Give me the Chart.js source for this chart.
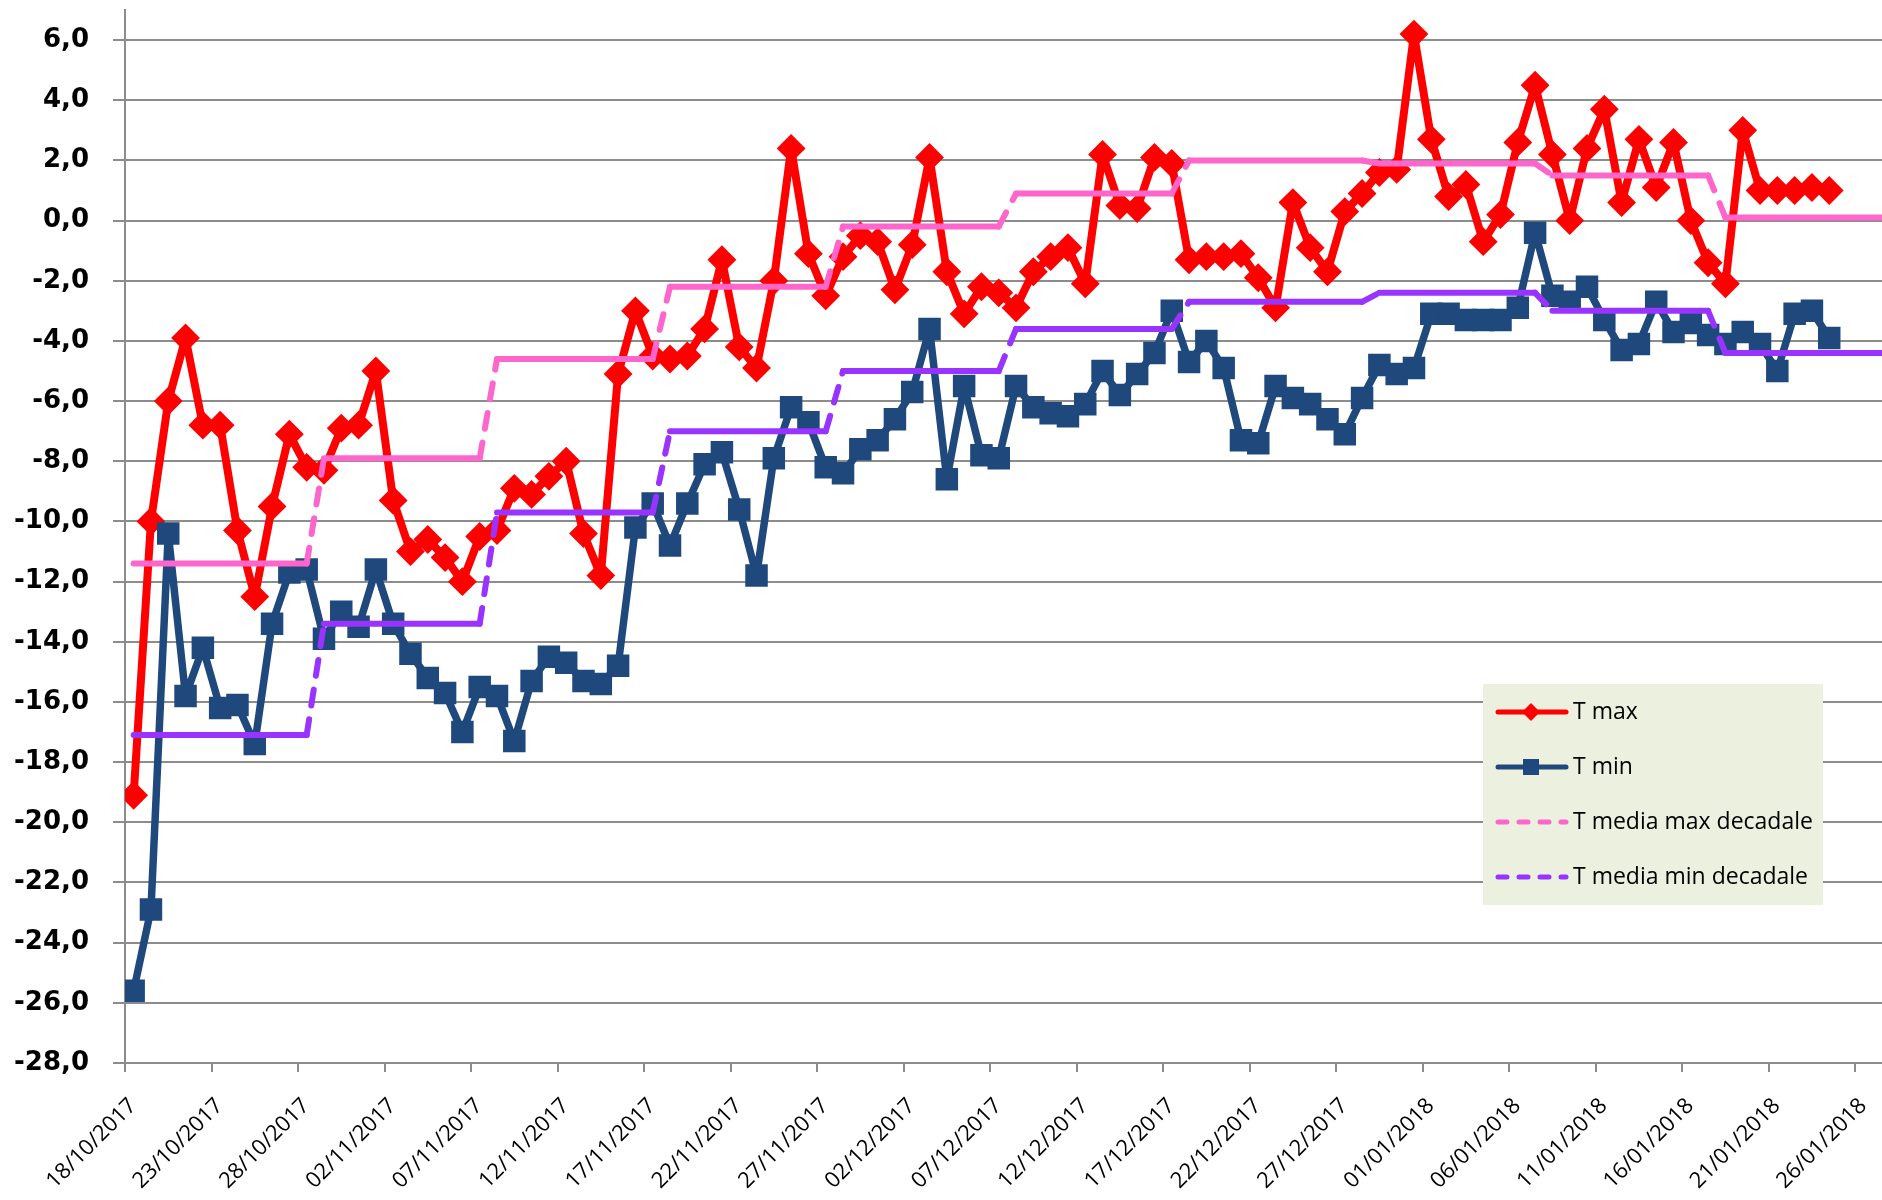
<!DOCTYPE html>
<html>
<head>
<meta charset="utf-8">
<title>Temperature</title>
<script src="https://cdn.jsdelivr.net/npm/chart.js@4.4.1/dist/chart.umd.min.js"></script>
<style>
    html, body { margin: 0; padding: 0; background: #ffffff; }
    #wrap { width: 1882px; height: 1200px; }
</style>
</head>
<body>
<div id="wrap"><canvas id="lineChart1" width="1882" height="1200"></canvas></div>
<script>
// etichette asse x (una ogni 5 giorni, a partire dal 18/10/2017)
var tickLabels = [
    "18/10/2017", "23/10/2017", "28/10/2017", "02/11/2017", "07/11/2017",
    "12/11/2017", "17/11/2017", "22/11/2017", "27/11/2017", "02/12/2017",
    "07/12/2017", "12/12/2017", "17/12/2017", "22/12/2017", "27/12/2017",
    "01/01/2018", "06/01/2018", "11/01/2018", "16/01/2018", "21/01/2018",
    "26/01/2018"
];
var yTicks = [-28, -26, -24, -22, -20, -18, -16, -14, -12, -10, -8, -6, -4, -2, 0, 2, 4, 6];

// valori giornalieri dal 18/10/2017 al 24/01/2018
var tMax = [
    -19.1, -10.0, -6.0, -3.9, -6.8, -6.8, -10.3, -12.5, -9.5, -7.1,
    -8.2, -8.3, -6.9, -6.8, -5.0, -9.3, -11.0, -10.6, -11.2, -12.0,
    -10.5, -10.3, -8.9, -9.1, -8.5, -8.0, -10.4, -11.8, -5.1, -3.0,
    -4.5, -4.6, -4.5, -3.6, -1.3, -4.2, -4.9, -2.0, 2.4, -1.1,
    -2.5, -1.2, -0.5, -0.7, -2.3, -0.8, 2.1, -1.7, -3.1, -2.2,
    -2.4, -2.9, -1.7, -1.2, -0.9, -2.1, 2.2, 0.5, 0.4, 2.1,
    1.9, -1.3, -1.2, -1.2, -1.1, -1.9, -2.9, 0.6, -0.9, -1.7,
    0.3, 0.9, 1.6, 1.7, 6.2, 2.7, 0.8, 1.2, -0.7, 0.2,
    2.6, 4.5, 2.2, 0.0, 2.4, 3.7, 0.6, 2.7, 1.1, 2.6,
    0.0, -1.4, -2.1, 3.0, 1.0, 1.0, 1.0, 1.1, 1.0
];
var tMin = [
    -25.6, -22.9, -10.4, -15.8, -14.2, -16.2, -16.1, -17.4, -13.4, -11.7,
    -11.6, -13.9, -13.0, -13.5, -11.6, -13.4, -14.4, -15.2, -15.7, -17.0,
    -15.5, -15.8, -17.3, -15.3, -14.5, -14.7, -15.3, -15.4, -14.8, -10.2,
    -9.4, -10.8, -9.4, -8.1, -7.7, -9.6, -11.8, -7.9, -6.2, -6.7,
    -8.2, -8.4, -7.6, -7.3, -6.6, -5.7, -3.6, -8.6, -5.5, -7.8,
    -7.9, -5.5, -6.2, -6.4, -6.5, -6.1, -5.0, -5.8, -5.1, -4.4,
    -3.0, -4.7, -4.0, -4.9, -7.3, -7.4, -5.5, -5.9, -6.1, -6.6,
    -7.1, -5.9, -4.8, -5.1, -4.9, -3.1, -3.1, -3.3, -3.3, -3.3,
    -2.9, -0.4, -2.5, -2.7, -2.2, -3.3, -4.3, -4.1, -2.7, -3.7,
    -3.4, -3.8, -4.1, -3.7, -4.1, -5.0, -3.1, -3.0, -3.9
];

// medie decadali: primo e ultimo giorno di ogni periodo
var decadeStart = [0, 11, 21, 31, 41, 51, 61, 72, 82, 92];
var decadeEnd = [10, 20, 30, 40, 50, 60, 71, 81, 91, 102];
var decadeMax = [-11.4, -7.9, -4.6, -2.2, -0.2, 0.9, 2.0, 1.9, 1.5, 0.1];
var decadeMin = [-17.1, -13.4, -9.7, -7.0, -5.0, -3.6, -2.7, -2.4, -3.0, -4.4];

function dailyPoints(values) {
    return values.map(function (v, i) {
        return { x: i, y: v };
    });
}

function stepPoints(values) {
    var pts = [];
    for (var k = 0; k < values.length; k++) {
        pts.push({ x: decadeStart[k], y: values[k] });
        pts.push({ x: decadeEnd[k], y: values[k] });
    }
    return pts;
}

// tratteggio solo sui raccordi tra una decade e l'altra
var dashOnSlope = function (ctx) {
    return ctx.p0.parsed.y !== ctx.p1.parsed.y ? [16, 14] : undefined;
};

var gridColor = "#8c8c8c";

var boxLegend = {
    id: "boxLegend",
    afterDraw: function (chart) {
        var ctx = chart.ctx;
        var bx = 1483, by = 684, bw = 340, bh = 221;
        ctx.save();
        ctx.fillStyle = "#EBF1DE";
        ctx.fillRect(bx, by, bw, bh);
        chart.data.datasets.forEach(function (ds, i) {
            var cy = by + 28 + i * 55;
            ctx.beginPath();
            ctx.lineWidth = 5;
            ctx.lineCap = "round";
            ctx.strokeStyle = ds.borderColor;
            ctx.setLineDash(ds.legendDash || []);
            ctx.moveTo(bx + 15, cy);
            ctx.lineTo(bx + 83, cy);
            ctx.stroke();
            ctx.setLineDash([]);
            if (ds.legendMarker) {
                ctx.fillStyle = ds.borderColor;
                Chart.helpers.drawPoint(ctx, {
                    pointStyle: ds.pointStyle,
                    radius: ds.legendMarker,
                    borderWidth: 0,
                    rotation: 0,
                }, bx + 48, cy);
            }
            ctx.fillStyle = "#000000";
            ctx.font = '23px "Open Sans"';
            ctx.textAlign = "left";
            ctx.textBaseline = "middle";
            ctx.fillText(ds.label, bx + 90, cy);
        });
        ctx.restore();
    },
};

var ctx1 = document.getElementById("lineChart1").getContext("2d");
var lineChart1 = new Chart(ctx1, {
    type: "line",
    data: {
        datasets: [
            {
                label: "T max",
                data: dailyPoints(tMax),
                borderColor: "#FF0000",
                backgroundColor: "#FF0000",
                borderWidth: 8,
                borderJoinStyle: "round",
                borderCapStyle: "round",
                pointStyle: "rectRot",
                pointRadius: 13,
                pointBorderWidth: 2,
                legendMarker: 9,
                order: 3,
            },
            {
                label: "T min",
                data: dailyPoints(tMin),
                borderColor: "#1F497D",
                backgroundColor: "#1F497D",
                borderWidth: 7.5,
                borderJoinStyle: "round",
                borderCapStyle: "round",
                pointStyle: "rect",
                pointRadius: 14.5,
                pointBorderWidth: 2,
                legendMarker: 11.3,
                order: 2,
            },
            {
                label: "T media max decadale",
                data: stepPoints(decadeMax),
                borderColor: "#FF66CC",
                borderWidth: 6,
                borderCapStyle: "round",
                borderJoinStyle: "round",
                pointRadius: 0,
                legendDash: [9, 12],
                segment: { borderDash: dashOnSlope },
                order: 1,
            },
            {
                label: "T media min decadale",
                data: stepPoints(decadeMin),
                borderColor: "#9933FF",
                borderWidth: 6,
                borderCapStyle: "round",
                borderJoinStyle: "round",
                pointRadius: 0,
                legendDash: [9, 12],
                segment: { borderDash: dashOnSlope },
                order: 0,
            },
        ],
    },
    options: {
        responsive: false,
        animation: false,
        devicePixelRatio: 1,
        layout: { autoPadding: false, padding: { top: 10, right: 0, bottom: 0, left: 0 } },
        plugins: {
            legend: { display: false },
            tooltip: { enabled: false },
        },
        scales: {
            x: {
                type: "linear",
                min: -0.5,
                max: 101.05,
                afterBuildTicks: function (scale) {
                    scale.ticks = tickLabels.map(function (t, k) {
                        return { value: -0.5 + 5 * k };
                    });
                },
                afterFit: function (scale) {
                    scale.height = 137;
                    scale.paddingLeft = 0;
                    scale.paddingRight = 0;
                },
                grid: {
                    drawOnChartArea: false,
                    drawTicks: true,
                    tickLength: 9,
                    color: gridColor,
                    lineWidth: 2,
                },
                border: { color: gridColor, width: 2 },
                ticks: {
                    autoSkip: false,
                    minRotation: 45,
                    maxRotation: 45,
                    padding: 21,
                    labelOffset: 8,
                    color: "#000000",
                    font: { family: "Open Sans", size: 22 },
                    callback: function (value, index) {
                        return tickLabels[index];
                    },
                },
            },
            y: {
                min: -28,
                max: 7,
                afterBuildTicks: function (scale) {
                    scale.ticks = yTicks.map(function (v) {
                        return { value: v };
                    });
                },
                afterFit: function (scale) {
                    scale.width = 125;
                    scale.paddingTop = 0;
                    scale.paddingBottom = 0;
                },
                grid: {
                    color: gridColor,
                    lineWidth: 2,
                    drawTicks: true,
                    tickLength: 12,
                },
                border: { color: gridColor, width: 2 },
                ticks: {
                    padding: 24,
                    color: "#000000",
                    font: { family: "DejaVu Sans", size: 26, weight: "bold" },
                    callback: function (value) {
                        return value.toFixed(1).replace(".", ",");
                    },
                },
            },
        },
    },
    plugins: [boxLegend],
});
</script>
</body>
</html>
